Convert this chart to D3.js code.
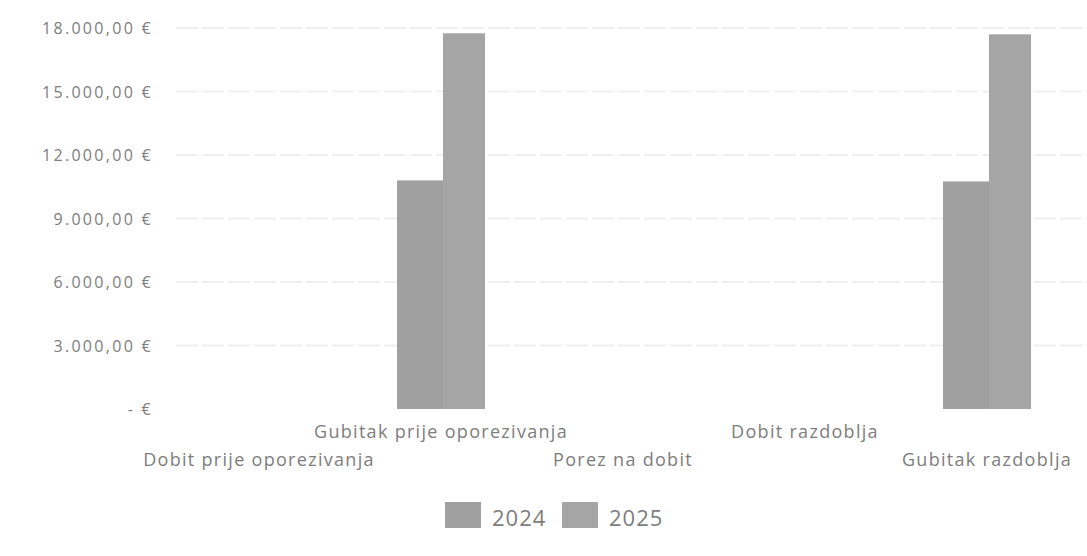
<!doctype html>
<html>
<head>
<meta charset="utf-8">
<title>Dobit / gubitak</title>
<script src="https://d3js.org/d3.v7.min.js"></script>
<style>
  body { margin: 0; background: #fff; }
  svg text { font-family: "Open Sans", sans-serif; fill: #7d7d7d; }
  .grid line { stroke: #efefef; stroke-width: 2px; stroke-dasharray: 22 4; }
</style>
</head>
<body>
<script>
// data
var categories = ["Dobit prije oporezivanja", "Gubitak prije oporezivanja",
    "Porez na dobit", "Dobit razdoblja", "Gubitak razdoblja"];
var years = ["2024", "2025"];
var values2024 = [0, 10800, 0, 0, 10750];
var values2025 = [0, 17750, 0, 0, 17700];
var yTicks = [0, 3000, 6000, 9000, 12000, 15000, 18000];

var w = 1087, h = 556;

var svg = d3.select("body")
    .append("svg")
    .attr("width", w)
    .attr("height", h);

var x0 = d3.scaleBand()
    .domain(categories)
    .range([168, 1078]);

var x1 = d3.scaleBand()
    .domain(years)
    .range([0, 88]);

var y = d3.scaleLinear()
    .domain([0, 18000])
    .range([409, 28]);

var color = d3.scaleOrdinal()
    .domain(years)
    .range(["#a0a0a0", "#a5a5a5"]);

var hr = d3.formatLocale({ decimal: ",", thousands: ".", grouping: [3], currency: ["", " €"] });
var fmt = hr.format(",.2f");
function tickLabel(d) {
    return d === 0 ? "-    €" : fmt(d) + " €";
}

// gridlines
svg.append("g")
    .attr("class", "grid")
    .selectAll("line")
    .data(yTicks.filter(function(d) { return d > 0; }))
    .enter().append("line")
    .attr("x1", 176)
    .attr("x2", w)
    .attr("y1", function(d) { return y(d); })
    .attr("y2", function(d) { return y(d); });

// y axis labels
svg.append("g")
    .selectAll("text")
    .data(yTicks)
    .enter().append("text")
    .attr("x", 153)
    .attr("y", function(d) { return y(d) + 6; })
    .attr("text-anchor", "end")
    .style("font-size", "16px")
    .style("letter-spacing", "2.3px")
    .text(tickLabel);

// bars
var rows = categories.map(function(c, i) {
    return { cat: c, vals: [
        { year: "2024", v: values2024[i] },
        { year: "2025", v: values2025[i] }
    ] };
});

var groups = svg.append("g")
    .selectAll("g")
    .data(rows)
    .enter().append("g")
    .attr("transform", function(d) {
        return "translate(" + (x0(d.cat) + (x0.bandwidth() - 88) / 2) + ",0)";
    });

groups.selectAll("rect")
    .data(function(d) { return d.vals.filter(function(e) { return e.v > 0; }); })
    .enter().append("rect")
    .attr("x", function(d) { return d.year === "2024" ? x1(d.year) : x1(d.year) + 2; })
    .attr("y", function(d) { return y(d.v); })
    .attr("width", function(d) { return d.year === "2024" ? x1.bandwidth() + 2 : x1.bandwidth() - 2; })
    .attr("height", function(d) { return y(0) - y(d.v); })
    .style("fill", function(d) { return color(d.year); });

// category labels, staggered on two rows
svg.append("g")
    .selectAll("text")
    .data(categories)
    .enter().append("text")
    .attr("x", function(d) { return x0(d) + x0.bandwidth() / 2; })
    .attr("y", function(d, i) { return i % 2 === 1 ? 438 : 466; })
    .attr("text-anchor", "middle")
    .style("font-size", "18px")
    .style("letter-spacing", "1.3px")
    .text(function(d) { return d; });

// legend
var legend = svg.append("g")
    .selectAll("g")
    .data(years)
    .enter().append("g")
    .attr("transform", function(d, i) { return "translate(" + (445 + i * 117) + ",502)"; });

legend.append("rect")
    .attr("width", 36)
    .attr("height", 26)
    .style("fill", function(d) { return color(d); });

legend.append("text")
    .attr("x", 47)
    .attr("y", 24)
    .style("font-size", "22px")
    .style("letter-spacing", "1px")
    .text(function(d) { return d; });
</script>
</body>
</html>
